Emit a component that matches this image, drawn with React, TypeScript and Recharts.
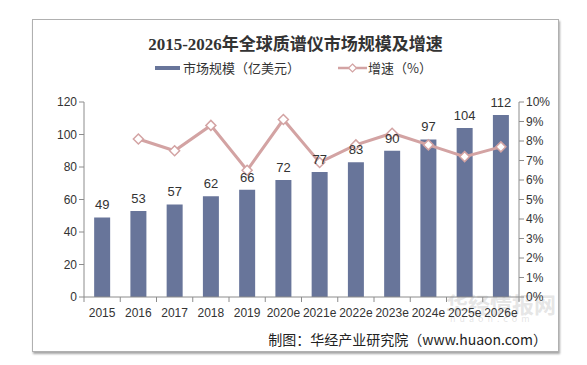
import React from 'react';
import { ComposedChart, Bar, Line, XAxis, YAxis, LabelList, Legend } from 'recharts';

const years = ['2015', '2016', '2017', '2018', '2019', '2020e', '2021e', '2022e', '2023e', '2024e', '2025e', '2026e'];
const marketSize = [49, 53, 57, 62, 66, 72, 77, 83, 90, 97, 104, 112];
const growthRate = [null, 8.1, 7.5, 8.8, 6.5, 9.1, 6.9, 7.8, 8.4, 7.8, 7.2, 7.7];
const leftTicks = [0, 20, 40, 60, 80, 100, 120];
const rightTicks = [0, 1, 2, 3, 4, 5, 6, 7, 8, 9, 10];

const data = years.map((y, i) => ({ year: y, size: marketSize[i], rate: growthRate[i] }));

const BAR_COLOR = '#68759a';
const LINE_COLOR = '#d3a3a3';
const TXT = '#333';
const AXIS = '#8c8c8c';
const FONT = '"Liberation Sans", Arial, sans-serif';

const XTick = ({ x, y, payload, index }: any) => {
  const half = 435 / years.length / 2;
  return (
    <g>
      <line x1={x - half} y1={y - 8} x2={x - half} y2={y - 3} stroke={AXIS} />
      {index === years.length - 1 && <line x1={x + half} y1={y - 8} x2={x + half} y2={y - 3} stroke={AXIS} />}
      <text x={x} y={y + 12} textAnchor="middle" fontSize={12} fill={TXT} fontFamily={FONT}>
        {payload.value}
      </text>
    </g>
  );
};

const Diamond = ({ cx, cy }: any) => {
  if (cx == null || cy == null) return null;
  const r = 5;
  return (
    <path
      d={`M${cx},${cy - r}L${cx + r},${cy}L${cx},${cy + r}L${cx - r},${cy}Z`}
      fill="#fff"
      stroke={LINE_COLOR}
      strokeWidth={1.5}
    />
  );
};

const LegendBox = () => (
  <div style={{ display: 'flex', justifyContent: 'center', alignItems: 'center', fontSize: 13, color: TXT, fontFamily: '"Noto Sans CJK SC", sans-serif' }}>
    <span style={{ display: 'inline-block', width: 25, height: 4, background: BAR_COLOR, marginRight: 3 }} />
    <span style={{ marginRight: 38 }}>市场规模（亿美元）</span>
    <svg width={29} height={12} style={{ marginRight: 1 }}>
      <line x1={0} y1={6} x2={29} y2={6} stroke={LINE_COLOR} strokeWidth={2.5} />
      <path d="M14.5,2L18.5,6L14.5,10L10.5,6Z" fill="#fff" stroke={LINE_COLOR} strokeWidth={1.2} />
    </svg>
    <span>增速（%）</span>
  </div>
);

export default function App() {
  return (
    <div style={{ position: 'absolute', left: 0, top: 0, width: 587, height: 365, background: '#fff' }}>
      <div
        style={{
          position: 'absolute', left: 32, top: 19, width: 527, height: 333,
          border: '1px solid #b0b0b0', boxShadow: '1px 2px 2px rgba(0,0,0,0.35)', boxSizing: 'border-box',
        }}
      />
      <div
        style={{
          position: 'absolute', left: 32, top: 30, width: 527, textAlign: 'center', fontSize: 17,
          fontWeight: 'bold', color: '#333', fontFamily: '"Liberation Serif", "Noto Sans CJK SC", serif',
        }}
      >
        2015-2026年全球质谱仪市场规模及增速
      </div>
      <div
        style={{
          position: 'absolute', left: 446, top: 292, fontSize: 22, fontWeight: 'bold', lineHeight: '22px',
          color: 'rgba(190,190,190,0.4)', fontFamily: '"Noto Sans CJK SC", sans-serif',
        }}
      >
        华经情报网
        <div style={{ fontSize: 9, fontWeight: 'normal', letterSpacing: 4, lineHeight: '10px', paddingLeft: 4 }}>huaon.com</div>
      </div>
      <div style={{ position: 'absolute', left: 0, top: 0 }}>
        <ComposedChart width={587} height={365} data={data} margin={{ top: 83, right: 28, left: 34, bottom: 28 }} barCategoryGap="28%">
          <Legend verticalAlign="top" content={<LegendBox />} wrapperStyle={{ top: 58, left: 0, width: 587 }} />
          <XAxis dataKey="year" axisLine={{ stroke: AXIS }} tickLine={false} tick={<XTick />} interval={0} height={40} />
          <YAxis
            yAxisId="l"
            width={50}
            domain={[0, 120]}
            ticks={leftTicks}
            interval={0}
            axisLine={{ stroke: AXIS }}
            tickLine={{ stroke: AXIS }}
            tickSize={5}
            tick={{ fontSize: 12, fill: TXT, fontFamily: FONT }}
          />
          <YAxis
            yAxisId="r"
            orientation="right"
            width={40}
            domain={[0, 10]}
            ticks={rightTicks}
            interval={0}
            axisLine={{ stroke: AXIS }}
            tickLine={{ stroke: AXIS }}
            tickSize={5}
            tickFormatter={(v) => `${v}%`}
            tick={{ fontSize: 12, fill: TXT, fontFamily: FONT }}
          />
          <Bar yAxisId="l" dataKey="size" fill={BAR_COLOR} isAnimationActive={false}>
            <LabelList dataKey="size" position="top" offset={8} style={{ fontSize: 13, fill: TXT, fontFamily: FONT }} />
          </Bar>
          <Line
            yAxisId="r"
            dataKey="rate"
            stroke={LINE_COLOR}
            strokeWidth={3}
            dot={<Diamond />}
            activeDot={false}
            connectNulls={false}
            isAnimationActive={false}
          />
        </ComposedChart>
      </div>
      <div
        style={{
          position: 'absolute', right: 40, top: 329, fontSize: 14, color: '#222',
          fontFamily: '"Noto Sans CJK SC", sans-serif',
        }}
      >
        制图：华经产业研究院（www.huaon.com）
      </div>
    </div>
  );
}
